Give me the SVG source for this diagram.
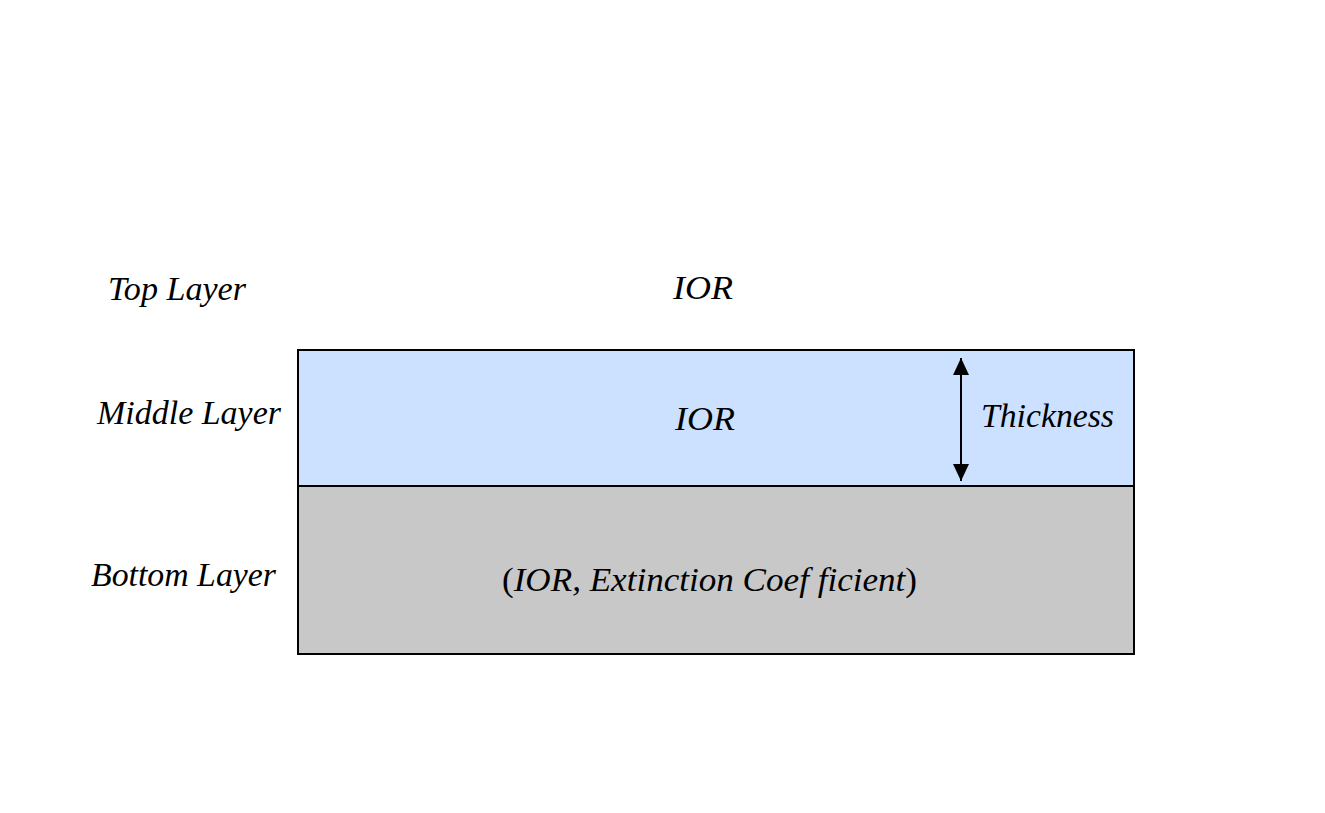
<svg xmlns="http://www.w3.org/2000/svg" width="1325" height="813" viewBox="0 0 1325 813">
<style>
.t{font-family:"Liberation Serif","Times New Roman",serif;font-style:italic;font-size:34px;fill:#000}
.u{font-style:normal}
.box{stroke:#000;stroke-width:2}
</style>
<defs>
<marker id="ah" viewBox="0 0 17 18" refX="17" refY="9" markerWidth="17" markerHeight="18" markerUnits="userSpaceOnUse" orient="auto-start-reverse">
<path d="M0,1 L17,9 L0,17 Z" fill="#000"/>
</marker>
</defs>
<rect width="1325" height="813" fill="#fff"/>
<g id="top-layer">
<text class="t" x="108" y="300" textLength="138" lengthAdjust="spacingAndGlyphs">Top Layer</text>
<text class="t" x="673" y="299" textLength="60" lengthAdjust="spacingAndGlyphs">IOR</text>
</g>
<g id="middle-layer">
<rect class="box" x="298" y="350" width="836" height="136" fill="#cce0ff"/>
<text class="t" x="97" y="424" textLength="184" lengthAdjust="spacingAndGlyphs">Middle Layer</text>
<text class="t" x="675" y="430" textLength="60" lengthAdjust="spacingAndGlyphs">IOR</text>
<text class="t" x="981" y="427" textLength="133" lengthAdjust="spacingAndGlyphs">Thickness</text>
</g>
<g id="bottom-layer">
<rect class="box" x="298" y="486" width="836" height="168" fill="#c8c8c8"/>
<text class="t" x="91" y="586" textLength="185" lengthAdjust="spacingAndGlyphs">Bottom Layer</text>
<text class="t" x="502" y="591" textLength="415" lengthAdjust="spacingAndGlyphs"><tspan class="u">(</tspan>IOR, Extinction Coef ficient<tspan class="u">)</tspan></text>
</g>
<g id="connectors">
<line x1="961" y1="358" x2="961" y2="481" stroke="#000" stroke-width="2" marker-start="url(#ah)" marker-end="url(#ah)"/>
</g>
</svg>
